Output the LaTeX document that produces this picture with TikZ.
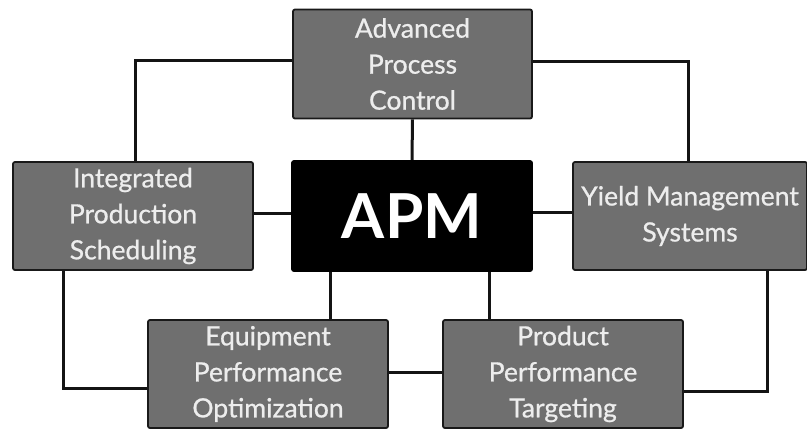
\documentclass[tikz,border=0pt]{standalone}
\usepackage{fontspec}
\setmainfont{Lato}
\newfontfamily\boxfont{Lato}[RawFeature={embolden=0.8}]
\usetikzlibrary{backgrounds}
\definecolor{boxgray}{HTML}{6F6F6F}
\definecolor{boxtext}{HTML}{EDEDED}
\begin{document}
\begin{tikzpicture}[x=1pt,y=-1pt,
  box/.style={draw=black!90, line width=1.8pt, rounded corners=2pt, fill=boxgray,
    text=boxtext, align=center, inner sep=0pt,
    minimum width=240pt, minimum height=108pt,
    font=\boxfont\fontsize{26.5}{36}\selectfont},
  core/.style={box, fill=black, draw=black, text=white, minimum height=110pt,
    font=\fontsize{62}{62}\selectfont\bfseries},
  link/.style={line width=3pt, draw=black!92}]
\useasboundingbox (0,0) rectangle (807,431);
% nodes
\node[box, minimum width=239pt, minimum height=109pt] (apc) at (412.5,64) {Advanced\\Process\\Control};
\node[core] (apm) at (412,216) {APM};
\node[box] (ips) at (133,216) {Integrated\\Production\\Scheduling};
\node[box, minimum width=234pt] (yms) at (690,216) {Yield Management\\Systems};
\node[box] (epo) at (268,374) {Equipment\\Performance\\Optimization};
\node[box] (ppt) at (563,374) {Product\\Performance\\Targeting};
% connectors
\begin{scope}[on background layer]
\draw[link] (apc.south) -- (apm.north);
\draw[link] ([yshift=4pt]apc.west) -| ([xshift=2pt]ips.north);
\draw[link] ([yshift=3pt]apc.east) -| ([xshift=-2pt]yms.north);
\draw[link] ([yshift=3pt]ips.east) -- ([yshift=3pt]apm.west);
\draw[link] ([yshift=4pt]apm.east) -- ([yshift=4pt]yms.west);
\draw[link] ([xshift=39pt]apm.south west) coordinate (t1) -- (t1 |- epo.north);
\draw[link] ([xshift=-43pt]apm.south east) coordinate (t2) -- (t2 |- ppt.north);
\draw[link] ([xshift=51pt]ips.south west) coordinate (t3) |- ([yshift=-14pt]epo.west);
\draw[link] ([xshift=-40pt]yms.south east) coordinate (t4) |- ([yshift=-17pt]ppt.east);
\draw[link] ([yshift=2pt]epo.east) -- ([yshift=2pt]ppt.west);
\end{scope}
\end{tikzpicture}
\end{document}
